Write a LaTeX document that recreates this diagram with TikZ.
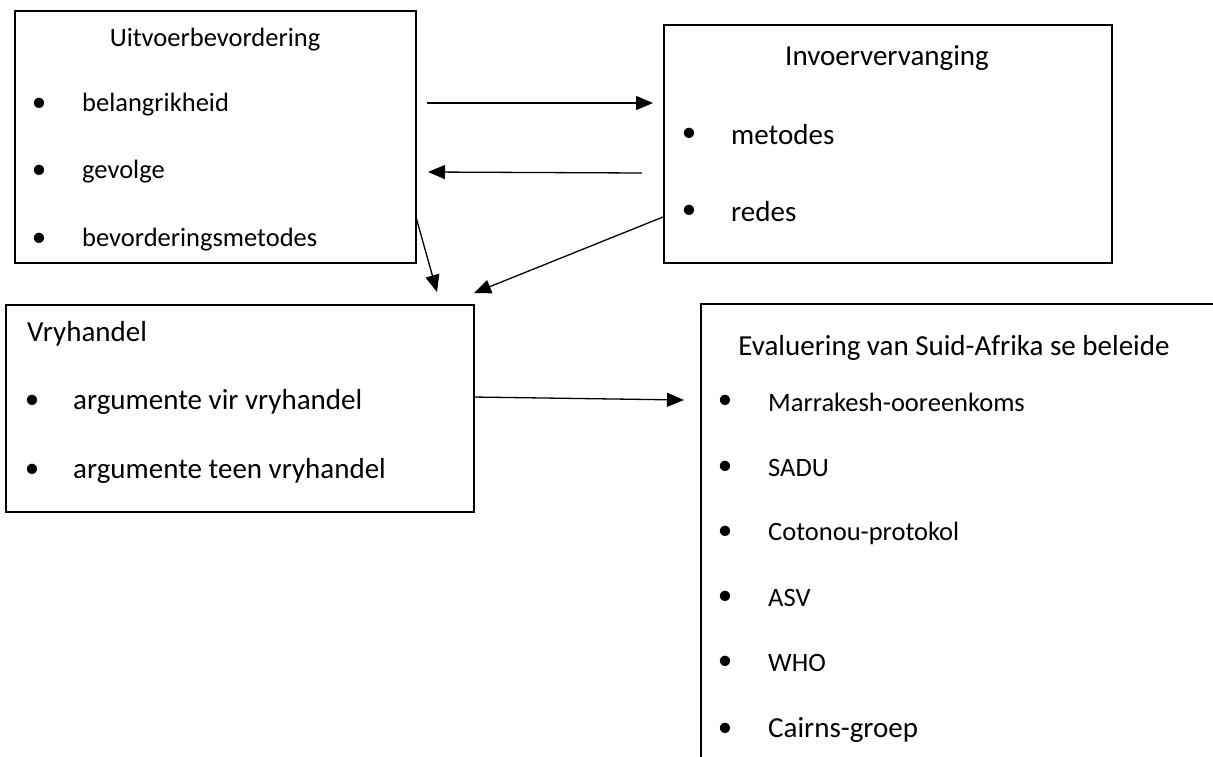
\documentclass[tikz,border=0pt]{standalone}
\usepackage{fontspec}
\setmainfont{Carlito}
\usetikzlibrary{arrows.meta}
\tikzset{
  box/.style={draw=black, line width=1.6pt, rectangle, anchor=north west, inner sep=0pt},
  conn/.style={line width=1.3pt, -{Triangle[length=17pt,width=14pt]}},
  txtS/.style={inner sep=0pt, font=\fontsize{26.5}{30}\selectfont},
  txtL/.style={inner sep=0pt, font=\fontsize{29}{33}\selectfont},
  itemS/.style={txtS, anchor=west},
  itemL/.style={txtL, anchor=west},
}
\begin{document}
\begin{tikzpicture}[x=1pt,y=-1pt]
\clip (0,0) rectangle (1213,756);
\useasboundingbox (0,0) rectangle (1213,756);
\fill[white] (0,0) rectangle (1213,756);

% boxes
\node[box, minimum width=401pt, minimum height=252pt] (b1) at (14,10) {};
\node[box, minimum width=448pt, minimum height=238pt] (b2) at (663,24) {};
\node[box, minimum width=468pt, minimum height=207pt] (b3) at (5,304) {};
\node[box, minimum width=600pt, minimum height=600pt] (b4) at (700,303) {};

% box 1
\node[txtS] (t1) at (215,40) {Uitvoerbevordering};
\node[txtL] (d11) at (39,105) {•};
\node[itemS] (i11) at (82,105) {belangrikheid};
\node[txtL] (d12) at (39,172) {•};
\node[itemS] (i12) at (82,172) {gevolge};
\node[txtL] (d13) at (39,240) {•};
\node[itemS] (i13) at (82,240) {bevorderingsmetodes};

% box 2
\node[txtL] (t2) at (887,58) {Invoervervanging};
\node[txtL] (d21) at (689,135) {•};
\node[itemL] (i21) at (731,135) {metodes};
\node[txtL] (d22) at (689,212) {•};
\node[itemL] (i22) at (731,212) {redes};

% box 3
\node[itemL] (t3) at (27,334) {Vryhandel};
\node[txtL] (d31) at (32,402) {•};
\node[itemL] (i31) at (73,402) {argumente vir vryhandel};
\node[txtL] (d32) at (32,471) {•};
\node[itemL] (i32) at (73,471) {argumente teen vryhandel};

% box 4
\node[txtL] (t4) at (954,348) {Evaluering van Suid-Afrika se beleide};
\node[txtL] (d41) at (725,402) {•};
\node[itemS] (i41) at (768,402) {Marrakesh-ooreenkoms};
\node[txtL] (d42) at (725,468) {•};
\node[itemS] (i42) at (768,468) {SADU};
\node[txtL] (d43) at (725,533) {•};
\node[itemS] (i43) at (768,533) {Cotonou-protokol};
\node[txtL] (d44) at (725,598) {•};
\node[itemS] (i44) at (768,598) {ASV};
\node[txtL] (d45) at (725,663) {•};
\node[itemS] (i45) at (768,663) {WHO};
\node[txtL] (d46) at (725,730) {•};
\node[itemL] (i46) at (768,730) {Cairns-groep};

% connector ends
\coordinate (a1s) at (427,103);
\coordinate (a1e) at (653,103);
\coordinate (a2s) at (642,173);
\coordinate (a2e) at (428,172);
\coordinate (a3s) at (416,217);
\coordinate (a3e) at (437,292);
\coordinate (a4s) at (663,217);
\coordinate (a4e) at (474,293);
\coordinate (a5s) at (473,397);
\coordinate (a5e) at (684,400);

\draw[conn] (a1s) -- (a1e);
\draw[conn] (a2s) -- (a2e);
\draw[conn] (a3s) -- (a3e);
\draw[conn] (a4s) -- (a4e);
\draw[conn] (a5s) -- (a5e);
\end{tikzpicture}
\end{document}
